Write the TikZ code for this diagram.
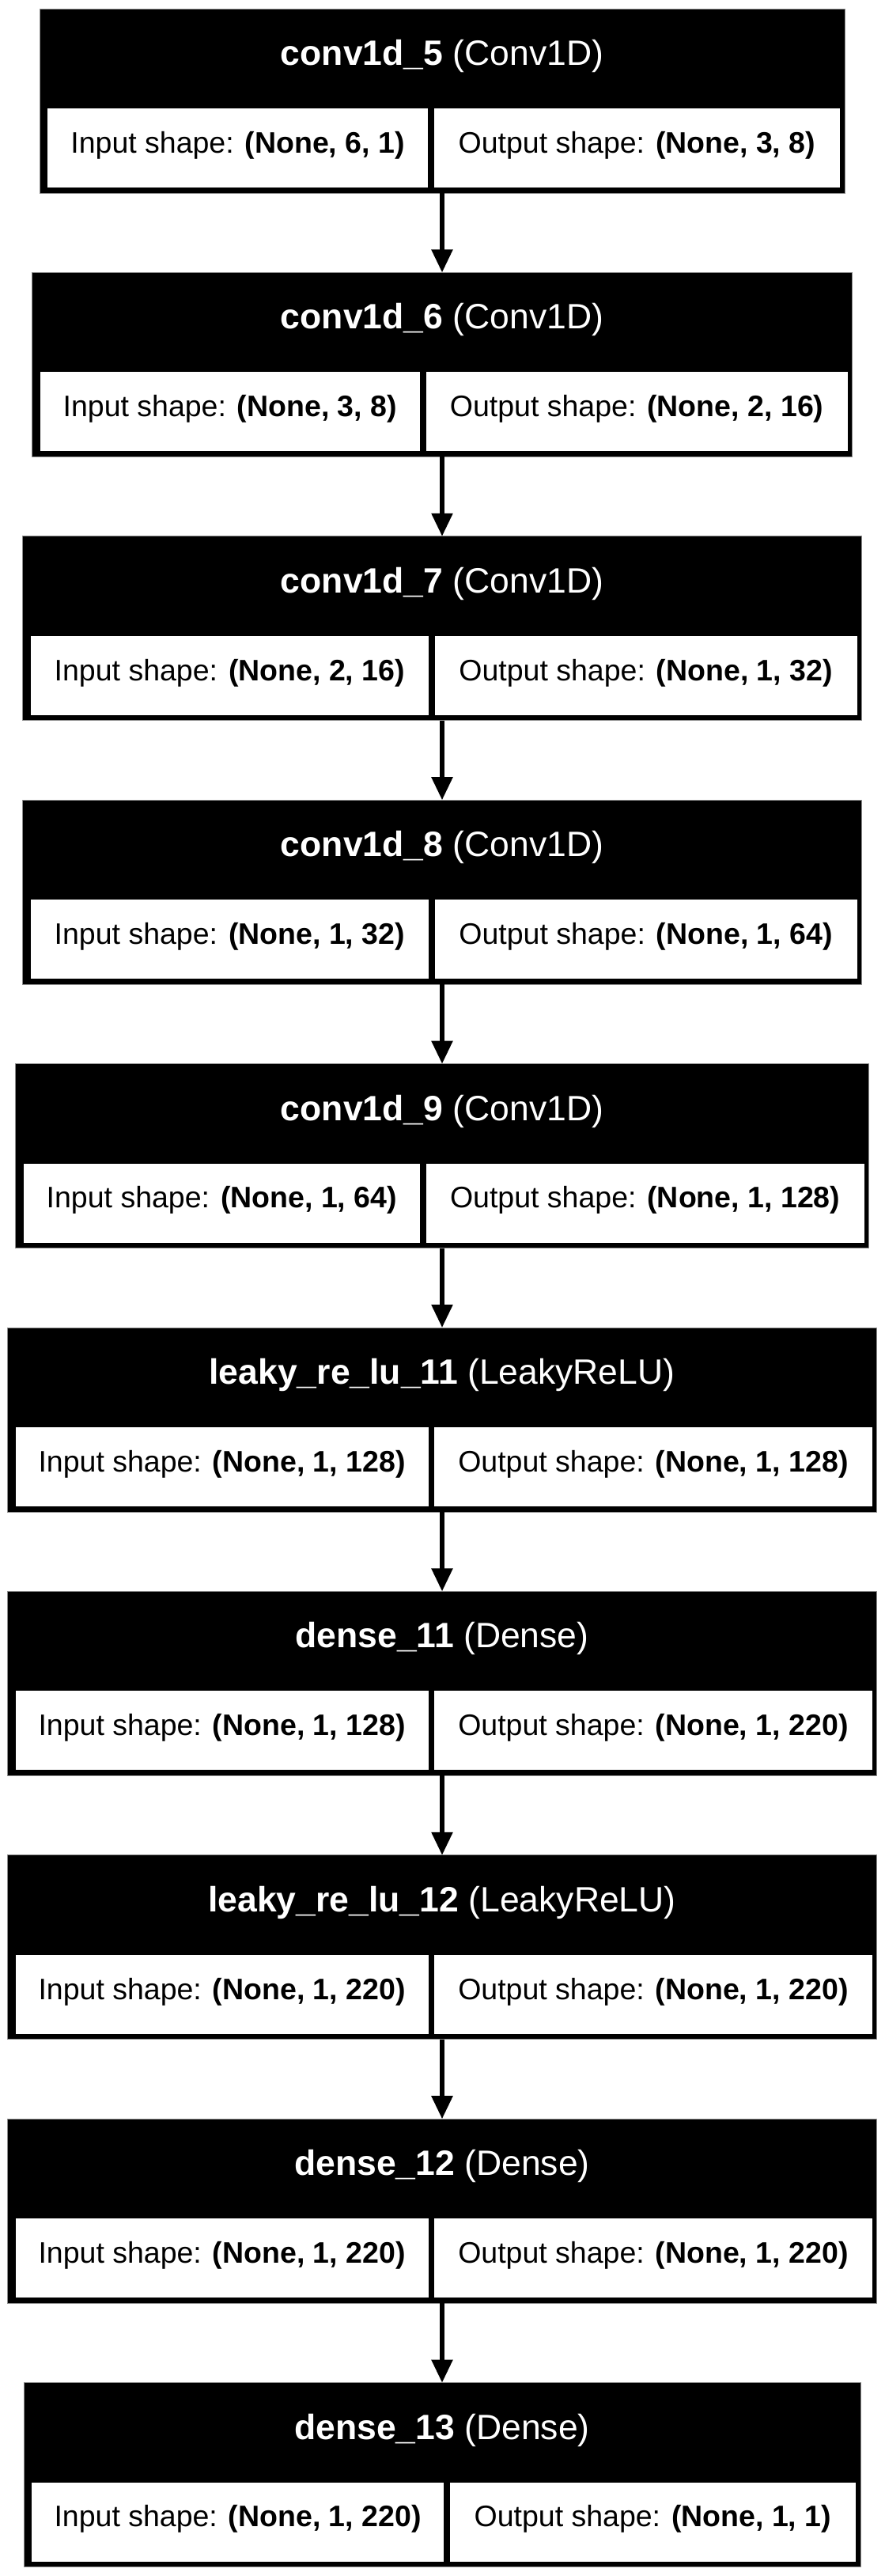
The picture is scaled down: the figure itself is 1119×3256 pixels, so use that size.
\documentclass[tikz,border=0pt]{standalone}
\usepackage{fontspec}
\setmainfont{Liberation Sans}
\usetikzlibrary{arrows.meta}
\newcommand\mylayer[8]{%
  \pgfmathsetmacro\Lx{559-#3}%
  \pgfmathsetmacro\Rx{559+#3}%
  \pgfmathsetmacro\wl{#4-3.8-(\Lx+10)}%
  \pgfmathsetmacro\wr{(\Rx-6)-(#4+3.8)}%
  \node[layerbox, minimum width={2*#3pt}, anchor=north] (b#1) at (559,#2) {};
  \node[headtext, anchor=base] (h#1) at (559,#2+71.5) {\textbf{#5} (#6)};
  \node[cellbox, anchor=north west, minimum width={\wl pt}] (i#1) at (\Lx+10,#2+126) {Input shape: \textbf{#7}};
  \node[cellbox, anchor=north west, minimum width={\wr pt}] (o#1) at (#4+3.8,#2+126) {Output shape: \textbf{#8}};
}
\begin{document}
\begin{tikzpicture}[x=1pt,y=-1pt,
  layerbox/.style={fill=black, draw=black!45, line width=1pt, minimum height=233pt, inner sep=0pt, outer sep=0pt},
  headtext/.style={text=white, inner sep=0pt, font=\fontsize{44.5pt}{50pt}\selectfont},
  cellbox/.style={fill=white, draw=none, minimum height=100pt, inner sep=0pt, outer sep=0pt, text height=22pt, text depth=9.6pt, font=\fontsize{37.5pt}{42pt}\selectfont},
  arr/.style={line width=5.5pt, -{Triangle[length=29pt,width=26pt]}}]
\useasboundingbox (0,0) rectangle (1119,3256);
\mylayer{1}{11}{509}{545}{conv1d\_5}{Conv1D}{(None, 6, 1)}{(None, 3, 8)}
\mylayer{2}{344.4}{518.5}{535}{conv1d\_6}{Conv1D}{(None, 3, 8)}{(None, 2, 16)}
\mylayer{3}{677.8}{530.5}{546}{conv1d\_7}{Conv1D}{(None, 2, 16)}{(None, 1, 32)}
\mylayer{4}{1011.2}{530.5}{546}{conv1d\_8}{Conv1D}{(None, 1, 32)}{(None, 1, 64)}
\mylayer{5}{1344.6}{539.5}{535}{conv1d\_9}{Conv1D}{(None, 1, 64)}{(None, 1, 128)}
\mylayer{6}{1678}{549.5}{545.5}{leaky\_re\_lu\_11}{LeakyReLU}{(None, 1, 128)}{(None, 1, 128)}
\mylayer{7}{2011.4}{549.5}{545.5}{dense\_11}{Dense}{(None, 1, 128)}{(None, 1, 220)}
\mylayer{8}{2344.8}{549.5}{545.5}{leaky\_re\_lu\_12}{LeakyReLU}{(None, 1, 220)}{(None, 1, 220)}
\mylayer{9}{2678.2}{549.5}{545.5}{dense\_12}{Dense}{(None, 1, 220)}{(None, 1, 220)}
\mylayer{10}{3011.6}{529}{565}{dense\_13}{Dense}{(None, 1, 220)}{(None, 1, 1)}
\foreach \a/\b in {1/2,2/3,3/4,4/5,5/6,6/7,7/8,8/9,9/10}
  \draw[arr] (b\a.south) -- (b\b.north);
\end{tikzpicture}
\end{document}
